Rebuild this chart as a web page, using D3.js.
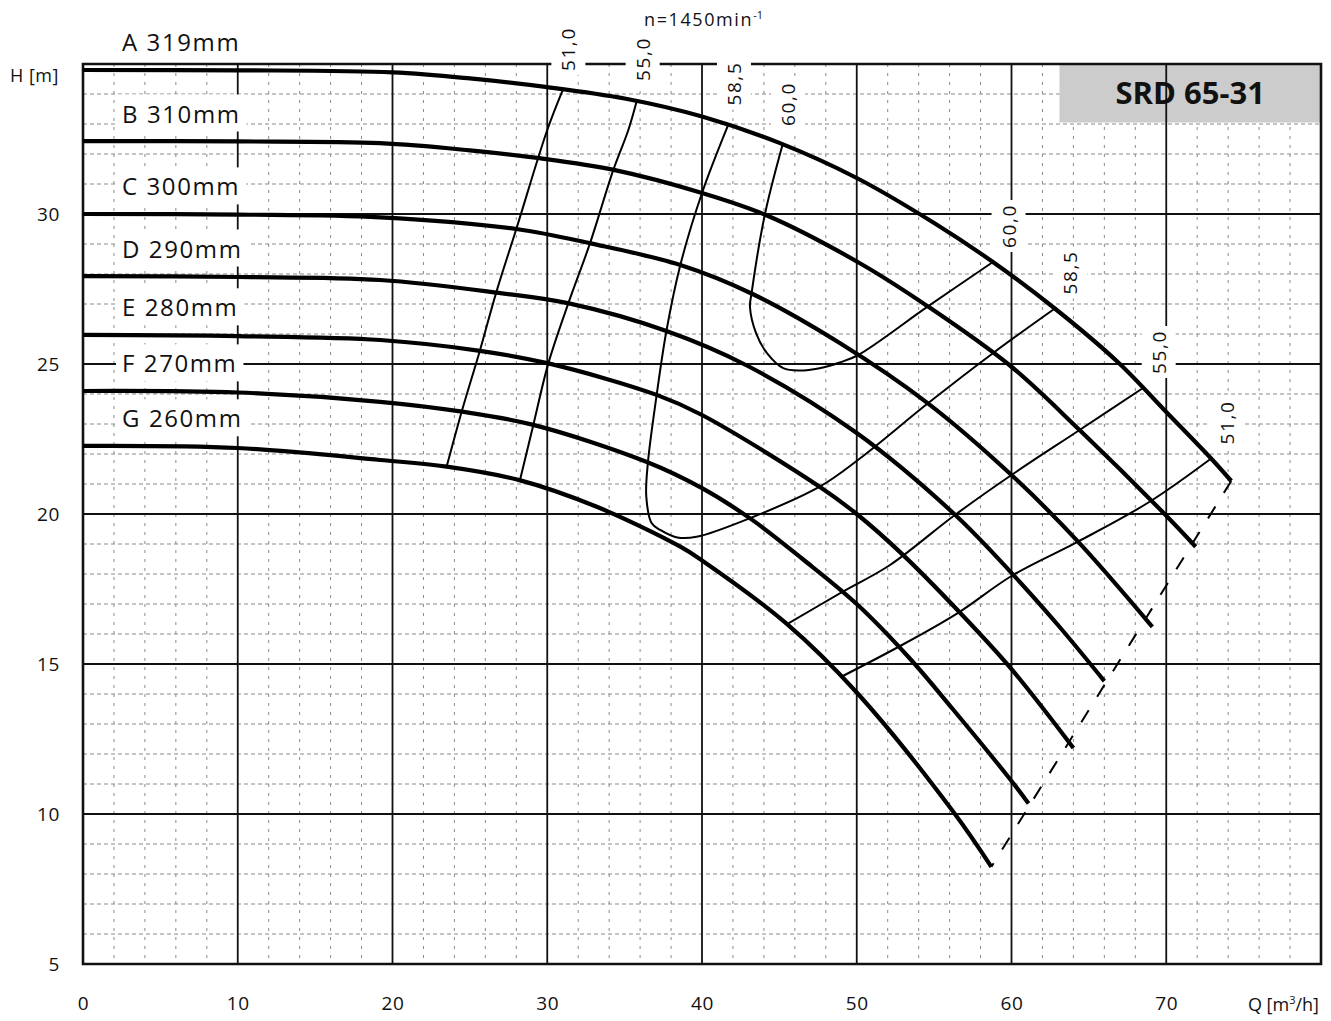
<!DOCTYPE html>
<html>
<head>
<meta charset="utf-8">
<script src="https://cdn.jsdelivr.net/npm/d3@7"></script>
<style>
  body { margin: 0; background: #fff; }
  text { font-family: "Open Sans", sans-serif; fill: #111; }
</style>
</head>
<body>
<svg id="chart"></svg>
<script>
// SIZES
var width = 1331;
var height = 1021;
// (not "top": window.top is read only)
var plotLeft = 83, plotRight = 1321, plotTop = 64, plotBottom = 964;

// AXES
var qTicks = [0, 10, 20, 30, 40, 50, 60, 70];
var hTicks = [5, 10, 15, 20, 25, 30];
var qMinorStep = 2;   // m3/h
var hMinorStep = 1;   // m

// PUMP CURVES (Q m3/h, H m) - one per impeller diameter
var diameters = ["A 319mm", "B 310mm", "C 300mm", "D 290mm", "E 280mm", "F 270mm", "G 260mm"];
var curveA = [[0,34.8],[10,34.79],[20,34.72],[25,34.52],[30,34.23],[35,33.85],[40,33.25],[45,32.37],[50,31.2],[55,29.7],[58.8,28.4],[62.8,26.85],[66.9,25.05],[70,23.4],[72.9,21.85],[74.2,21.1]];
var curveB = [[0,32.43],[10,32.42],[19.2,32.36],[25,32.12],[29.5,31.86],[34.3,31.47],[40,30.7],[44.2,29.95],[50.2,28.36],[54.6,26.92],[59.9,24.95],[64.4,22.8],[69.8,20.05],[71.9,18.91]];
var curveC = [[0,30.0],[10,29.98],[19.2,29.89],[28,29.5],[32.8,29.02],[38.6,28.3],[43.2,27.35],[48.9,25.7],[54.6,23.69],[60,21.3],[64.3,19.08],[69.1,16.24]];
var curveD = [[0,27.93],[10,27.9],[19.2,27.8],[26.7,27.38],[31.4,27.02],[37.7,26.1],[42.9,24.95],[50,22.7],[56.3,20.0],[60.1,17.98],[63,16.3],[66.0,14.43]];
var curveE = [[0,25.97],[10,25.93],[19.2,25.8],[25.65,25.44],[30.07,25.02],[37.07,23.97],[40,23.3],[47.6,20.91],[50,20.0],[52.9,18.68],[56.6,16.75],[60,14.83],[64.0,12.2]];
var curveF = [[0,24.1],[10,24.05],[19.2,23.74],[24.5,23.41],[29.1,22.97],[36.4,21.74],[40,20.86],[43.2,19.82],[46.5,18.5],[50,17.0],[53.4,15.2],[56.2,13.5],[60,11.1],[61.1,10.35]];
var curveG = [[0,22.27],[10,22.2],[19.2,21.8],[23.5,21.58],[28.2,21.13],[33.2,20.24],[38.6,18.91],[40,18.45],[45.5,16.33],[50,14.05],[56.2,10.1],[58.7,8.24]];
var curves = [curveA, curveB, curveC, curveD, curveE, curveF, curveG];

// EFFICIENCY LINES (%)
var effLabels = ["51,0", "55,0", "58,5", "60,0"];
var eff51Left = [[31.0,34.13],[30.0,32.8],[28.0,29.5],[26.7,27.38],[25.65,25.45],[24.47,23.41],[23.5,21.58]];
var eff55Left = [[35.8,33.8],[35.24,32.8],[34.27,31.47],[32.76,29.02],[31.36,27.02],[30.07,25.02],[29.1,22.97],[28.24,21.13]];
var eff585 = [[41.7,32.98],[40.0,30.7],[38.6,28.3],[37.7,26.1],[37.07,23.97],[36.5,21.69],[36.4,20.58],[36.75,19.69],[37.3,19.47],[38.4,19.22],[39.65,19.24],[43.1,19.86],[47.6,20.91],[50.2,21.85],[54.6,23.69],[58.8,25.36],[62.8,26.85]];
var eff60 = [[45.2,32.3],[44.07,30.0],[43.2,27.35],[43.1,26.9],[43.5,26.02],[44.2,25.36],[45.25,24.86],[46.3,24.78],[47.6,24.86],[48.9,25.05],[50.1,25.3],[54.6,26.92],[58.8,28.4]];
var eff55Right = [[45.5,16.33],[49.1,17.41],[52.15,18.3],[56.3,19.95],[60.0,21.3],[64.4,22.8],[68.5,24.2]];
var eff51Right = [[49.1,14.6],[52.8,15.6],[56.5,16.69],[60.05,17.95],[64.3,19.08],[68.9,20.4],[72.9,21.85]];

var title = "SRD 65-31";
var speed = "n=1450min";

// SCALES
var x = d3.scaleLinear().domain([0, 80]).range([plotLeft, plotRight]);
var y = d3.scaleLinear().domain([5, 35]).range([plotBottom, plotTop]);

var svg = d3.select("#chart").attr("width", width).attr("height", height);
svg.append("rect").attr("width", width).attr("height", height).attr("fill", "#fff");

// minor grid
var qMinor = d3.range(0, 80 + 0.01, qMinorStep).filter(function(d){ return d % 10 != 0; });
var hMinor = d3.range(5, 35 + 0.01, hMinorStep).filter(function(d){ return d % 5 != 0; });

svg.append("g").selectAll("line").data(hMinor).enter().append("line")
  .attr("x1", plotLeft).attr("x2", plotRight)
  .attr("y1", d => y(d)).attr("y2", d => y(d))
  .attr("stroke", "#8a8a8a").attr("stroke-width", 1).attr("stroke-dasharray", "4,3");
svg.append("g").selectAll("line").data(qMinor).enter().append("line")
  .attr("x1", d => x(d)).attr("x2", d => x(d))
  .attr("y1", plotTop).attr("y2", plotBottom)
  .attr("stroke", "#8a8a8a").attr("stroke-width", 1).attr("stroke-dasharray", "3,6");

// title box
svg.append("rect")
  .attr("x", x(63.1)).attr("y", y(35)).attr("width", plotRight - x(63.1)).attr("height", y(33.05) - y(35))
  .attr("fill", "#cccccc");
svg.append("text")
  .attr("x", (x(63.1) + plotRight) / 2).attr("y", (y(35) + y(33.05)) / 2)
  .attr("dy", "0.36em").attr("text-anchor", "middle")
  .attr("font-size", 31).attr("font-weight", "bold")
  .text(title);

// major grid
svg.append("g").selectAll("line").data(qTicks.slice(1)).enter().append("line")
  .attr("x1", d => x(d)).attr("x2", d => x(d))
  .attr("y1", plotTop).attr("y2", plotBottom)
  .attr("stroke", "#111").attr("stroke-width", 1.8);
svg.append("g").selectAll("line").data(hTicks.slice(1)).enter().append("line")
  .attr("x1", plotLeft).attr("x2", plotRight)
  .attr("y1", d => y(d)).attr("y2", d => y(d))
  .attr("stroke", "#111").attr("stroke-width", 1.8);

// frame
svg.append("path")
  .attr("d", "M" + x(80) + "," + y(35) + "L" + x(0) + "," + y(35) + "L" + x(0) + "," + y(5) + "L" + x(80) + "," + y(5) + "Z")
  .attr("fill", "none").attr("stroke", "#111").attr("stroke-width", 2.6);

// axes labels
svg.append("g").attr("transform", "translate(0," + plotBottom + ")")
  .call(d3.axisBottom(x).tickValues(qTicks).tickSize(0).tickPadding(33).tickFormat(d3.format("d")));
svg.append("g").attr("transform", "translate(" + plotLeft + ",0)")
  .call(d3.axisLeft(y).tickValues(hTicks).tickSize(0).tickPadding(23).tickFormat(d3.format("d")));
svg.selectAll(".domain").remove();
svg.selectAll(".tick text").attr("font-family", "Open Sans").attr("font-size", 19).attr("fill", "#111")
  .attr("letter-spacing", 0.6);

svg.append("text").attr("x", 10).attr("y", 82).attr("font-size", 18).attr("letter-spacing", 0.5).text("H [m]");
var qLab = svg.append("text").attr("x", 1319).attr("y", 1011).attr("text-anchor", "end").attr("font-size", 18);
qLab.append("tspan").text("Q [m");
qLab.append("tspan").attr("font-size", 11).attr("dy", -7).text("3");
qLab.append("tspan").attr("dy", 7).text("/h]");

var nLab = svg.append("text").attr("x", 644).attr("y", 26).attr("font-size", 18).attr("letter-spacing", 1.6);
nLab.append("tspan").text(speed);
nLab.append("tspan").attr("font-size", 11).attr("letter-spacing", 0).attr("dy", -7).text("-1");

// lines
var lineSmooth = d3.line().x(d => x(d[0])).y(d => y(d[1])).curve(d3.curveCatmullRom.alpha(0.5));

var effLines = [eff51Left, eff55Left, eff585, eff60, eff55Right, eff51Right];
svg.append("g").selectAll("path").data(effLines).enter().append("path")
  .attr("d", lineSmooth)
  .attr("fill", "none").attr("stroke", "#000").attr("stroke-width", 2);

svg.append("g").selectAll("path").data(curves).enter().append("path")
  .attr("d", lineSmooth)
  .attr("fill", "none").attr("stroke", "#000").attr("stroke-width", 4.2);

// limit line joining the curve ends
var ends = [curveA[curveA.length - 1], curveG[curveG.length - 1]];
svg.append("path")
  .attr("d", d3.line().x(d => x(d[0])).y(d => y(d[1]))(ends))
  .attr("fill", "none").attr("stroke", "#000").attr("stroke-width", 2)
  .attr("stroke-dasharray", "14,16");

// label with a white box behind it
function boxedLabel(cx, cy, txt, size, rotate, pad, spacing) {
  var g = svg.append("g").attr("transform", "translate(" + cx + "," + cy + ")" + (rotate ? " rotate(-90)" : ""));
  var t = g.append("text").attr("text-anchor", rotate ? "middle" : "start")
    .attr("dy", "0.35em").attr("font-size", size).attr("letter-spacing", spacing).text(txt);
  var b = t.node().getBBox();
  g.insert("rect", "text")
    .attr("x", b.x - pad[0]).attr("y", b.y - pad[1])
    .attr("width", b.width + 2 * pad[0]).attr("height", b.height + 2 * pad[1])
    .attr("fill", "#fff");
  return g;
}

// diameter labels
curves.forEach(function(c, i) {
  boxedLabel(122, y(c[0][1]) - 27, diameters[i], 24, false, [6, 2], 1.6);
});

// efficiency labels
var topEnds = [eff51Left[0], eff55Left[0], eff585[0], eff60[0]];
topEnds.forEach(function(p, i) {
  boxedLabel(x(p[0]) + 6, y(p[1]) - 41, effLabels[i], 19, true, [4, 4], 1.6);
});
var rightEnds = [eff51Right, eff55Right, eff585, eff60].map(function(l){ return l[l.length - 1]; });
rightEnds.forEach(function(p, i) {
  boxedLabel(x(p[0]) + 16, y(p[1]) - 36, effLabels[i], 19, true, [4, 4], 1.6);
});
</script>
</body>
</html>
